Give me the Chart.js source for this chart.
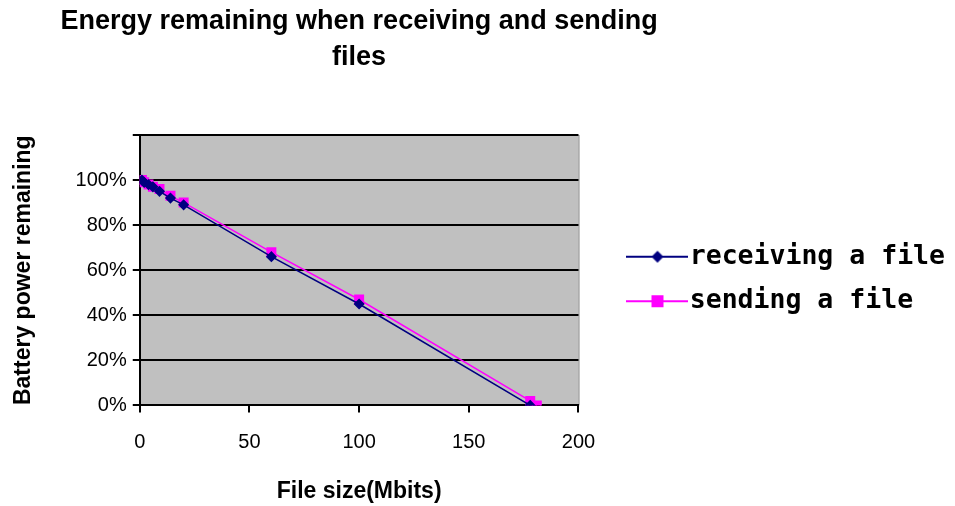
<!DOCTYPE html>
<html>
<head>
<meta charset="utf-8">
<script src="https://cdn.jsdelivr.net/npm/chart.js@4/dist/chart.umd.min.js"></script>
<style>
  html, body { margin: 0; padding: 0; background: #fff; }
  #wrap { width: 955px; height: 506px; }
</style>
</head>
<body>
<div id="wrap"><canvas id="myChart"></canvas></div>
<script>
const TITLE = ["Energy remaining when receiving and sending", "files"];
const X_TITLE = "File size(Mbits)";
const Y_TITLE = "Battery power remaining";

const receivingX = [1, 2, 4, 6, 9, 14, 20, 60, 100, 178];
const receivingY = [100, 99, 98, 97, 95, 92, 89, 66, 45, 0];

const sendingX = [1, 2, 4, 6, 9, 14, 20, 60, 100, 178, 181];
const sendingY = [100, 99, 98, 97, 96, 93, 90, 68, 47, 2, 0];

const yTicks = [0, 20, 40, 60, 80, 100, 120];

const BOLD_FONT = "'Liberation Sans Narrow', 'Arial Narrow', 'Liberation Sans', Arial";

// legend icon: short line with the marker in the middle
function legendIcon(color, style) {
  const c = document.createElement("canvas");
  c.width = 62; c.height = 14;
  const g = c.getContext("2d");
  g.strokeStyle = color;
  g.lineWidth = 2;
  g.beginPath(); g.moveTo(0, 7); g.lineTo(62, 7); g.stroke();
  g.fillStyle = color;
  if (style === "diamond") {
    g.beginPath(); g.moveTo(31, 1); g.lineTo(37, 7); g.lineTo(31, 13); g.lineTo(25, 7); g.closePath(); g.fill();
  } else {
    g.fillRect(25, 1, 12, 12);
  }
  return c;
}

const plotBg = {
  id: "plotBg",
  beforeDraw(chart) {
    const a = chart.chartArea, ctx = chart.ctx;
    ctx.save();
    ctx.fillStyle = "#c0c0c0";
    ctx.fillRect(a.left, a.top, a.right - a.left, a.bottom - a.top);
    ctx.strokeStyle = "#808080";
    ctx.lineWidth = 1;
    ctx.beginPath();
    ctx.moveTo(a.right + 0.5, a.top);
    ctx.lineTo(a.right + 0.5, a.bottom);
    ctx.stroke();
    ctx.restore();
  }
};

// chart title, centred over the plot area (Excel style)
const plotTitle = {
  id: "plotTitle",
  afterLayout(chart) {
    // legend sits just below the middle of the plot in the original
    if (chart.legend) { chart.legend.top -= 41; chart.legend.bottom -= 41; }
  },
  afterDraw(chart) {
    const a = chart.chartArea, ctx = chart.ctx;
    const cx = (a.left + a.right) / 2;
    ctx.save();
    ctx.fillStyle = "#000";
    ctx.font = "bold 27px " + BOLD_FONT;
    ctx.textAlign = "center";
    ctx.textBaseline = "middle";
    TITLE.forEach((line, i) => ctx.fillText(line, cx, 22 + i * 36));
    ctx.restore();
  }
};

const toPts = (xs, ys) => xs.map((x, i) => ({ x, y: ys[i] }));

const ctx = document.getElementById("myChart").getContext("2d");
new Chart(ctx, {
  type: "scatter",
  data: {
    datasets: [
      {
        label: "receiving a file",
        data: toPts(receivingX, receivingY),
        showLine: true,
        borderColor: "#000080",
        backgroundColor: "#000080",
        borderWidth: 1.5,
        pointStyle: "rectRot",
        pointRadius: 4.5,
        pointHoverRadius: 4.5
      },
      {
        label: "sending a file",
        data: toPts(sendingX, sendingY),
        showLine: true,
        borderColor: "#ff00ff",
        backgroundColor: "#ff00ff",
        borderWidth: 1.5,
        pointStyle: "rect",
        pointRadius: 6,
        pointHoverRadius: 6
      }
    ]
  },
  options: {
    responsive: true,
    maintainAspectRatio: false,
    animation: false,
    layout: { padding: { left: 6, right: 0, top: 135, bottom: 1 } },
    plugins: {
      title: { display: false },
      legend: {
        position: "right",
        maxWidth: 420,
        labels: {
          usePointStyle: true,
          pointStyleWidth: 38,
          color: "#000",
          font: { family: "'DejaVu Sans Mono', monospace", size: 26.5, weight: "bold" },
          padding: 18,
          generateLabels(chart) {
            return chart.data.datasets.map((ds, i) => ({
              text: ds.label,
              fontColor: "#000",
              fillStyle: ds.borderColor,
              strokeStyle: ds.borderColor,
              lineWidth: 0,
              pointStyle: legendIcon(ds.borderColor, i === 0 ? "diamond" : "square"),
              datasetIndex: i,
              hidden: false
            }));
          }
        }
      },
      tooltip: { enabled: false }
    },
    scales: {
      x: {
        type: "linear",
        min: 0,
        max: 200,
        ticks: { stepSize: 50, color: "#000", font: { family: "'Liberation Sans', Arial", size: 20 }, padding: 18 },
        grid: { display: true, drawOnChartArea: false, color: "#000", lineWidth: 2, tickLength: 7 },
        border: { color: "#000", width: 2 },
        title: {
          display: true,
          text: X_TITLE,
          color: "#000",
          font: { family: BOLD_FONT, size: 23, weight: "bold" },
          padding: { top: 5, bottom: 0 }
        }
      },
      y: {
        min: 0,
        max: 120,
        afterBuildTicks(axis) { axis.ticks = yTicks.map(v => ({ value: v })); },
        ticks: {
          color: "#000",
          font: { family: "'Liberation Sans', Arial", size: 20 },
          padding: 6,
          callback: v => (v === 120 ? "" : v + "%")
        },
        grid: { color: "#000", lineWidth: 2, tickLength: 7 },
        border: { color: "#000", width: 2 },
        title: {
          display: true,
          text: Y_TITLE,
          color: "#000",
          font: { family: BOLD_FONT, size: 23, weight: "bold" },
          padding: { top: 4, bottom: 32 }
        }
      },
      // empty spacer between the plot and the legend
      gap: {
        type: "linear",
        position: "right",
        display: true,
        min: 0,
        max: 1,
        grid: { display: false },
        border: { display: false },
        ticks: { display: false },
        afterFit(axis) { axis.width = 42; }
      }
    }
  },
  plugins: [plotBg, plotTitle]
});
</script>
</body>
</html>
